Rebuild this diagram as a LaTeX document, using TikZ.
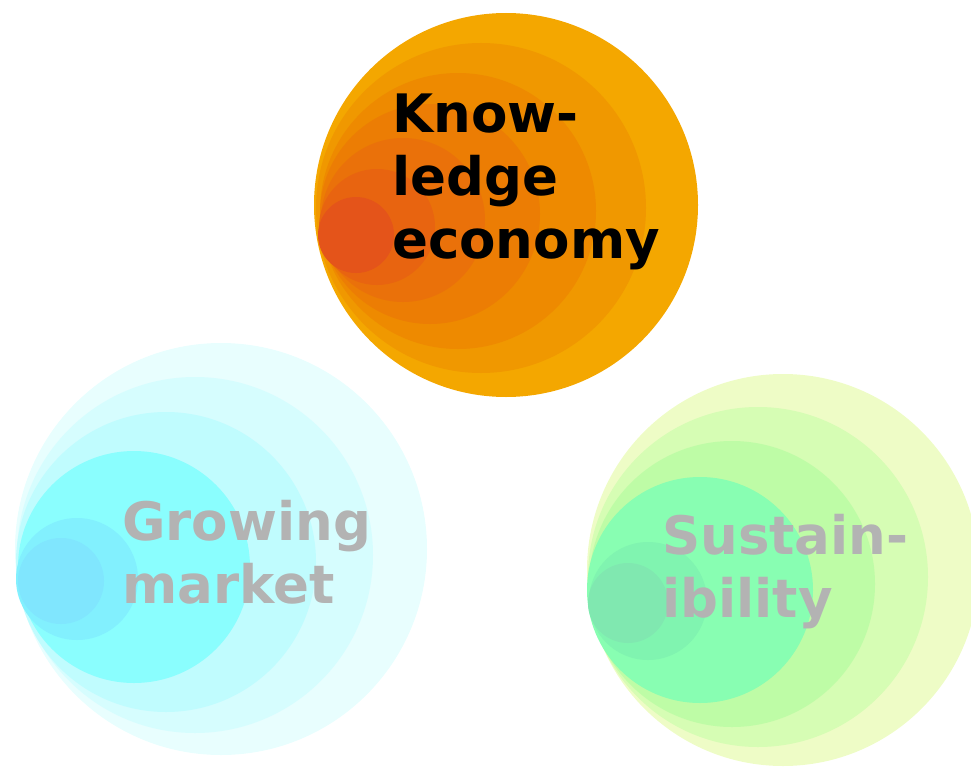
\documentclass[tikz,border=0pt]{standalone}
\usepackage{fontspec}
\setmainfont{DejaVu Sans}
% knowledge economy rings, outer to inner
\definecolor{know1}{HTML}{F4A700}
\definecolor{know2}{HTML}{F09800}
\definecolor{know3}{HTML}{EE8A00}
\definecolor{know4}{HTML}{EC7D04}
\definecolor{know5}{HTML}{EA710A}
\definecolor{know6}{HTML}{E86410}
\definecolor{know7}{HTML}{E4541A}
% growing market rings
\definecolor{grow1}{HTML}{E8FEFE}
\definecolor{grow2}{HTML}{D6FDFE}
\definecolor{grow3}{HTML}{C0FCFE}
\definecolor{grow4}{HTML}{8AFEFE}
\definecolor{grow5}{HTML}{82F0FE}
\definecolor{grow6}{HTML}{80E6FE}
% sustainability rings
\definecolor{sust1}{HTML}{EEFCC6}
\definecolor{sust2}{HTML}{D6FDB4}
\definecolor{sust3}{HTML}{BEFCA6}
\definecolor{sust4}{HTML}{88FEB2}
\definecolor{sust5}{HTML}{80F4B0}
\definecolor{sust6}{HTML}{80E8B0}
\definecolor{labelgray}{HTML}{B3B3B3}
\begin{document}
\begin{tikzpicture}[
  x=1pt, y=-1pt,
  label/.style={anchor=north west, inner sep=0pt, align=left, font=\fontsize{53}{63}\selectfont\bfseries}
]
\useasboundingbox (0,0) rectangle (971,768);

% Knowledge economy
\foreach \cx/\cy/\r/\col in {506/205/192/know1, 481/208/165/know2, 458/211/138/know3,
  430/214/110/know4, 403/220/82/know5, 377/227/58/know6, 356/235/38/know7}
  \fill[\col] (\cx,\cy) circle (\r pt);

% Growing market
\foreach \cx/\cy/\r/\col in {221/549/206/grow1, 195/555/178/grow2, 166/562/150/grow3,
  134/567/116/grow4, 77/579/61/grow5, 61/581/43/grow6}
  \fill[\col] (\cx,\cy) circle (\r pt);

% Sustainability
\foreach \cx/\cy/\r/\col in {783/570/196/sust1, 758/577/170/sust2, 732/584/143/sust3,
  700/590/113/sust4, 648/601/59/sust5, 628/603/40/sust6}
  \fill[\col] (\cx,\cy) circle (\r pt);

% Labels
\node[label, text=black] (knowledge) at (392,94) {Know-\\ledge\\economy};
\node[label, text=labelgray] (market) at (122,500) {Growing\\market};
\node[label, text=labelgray] (sustain) at (662,514) {Sustain-\\ibility};
\end{tikzpicture}
\end{document}
